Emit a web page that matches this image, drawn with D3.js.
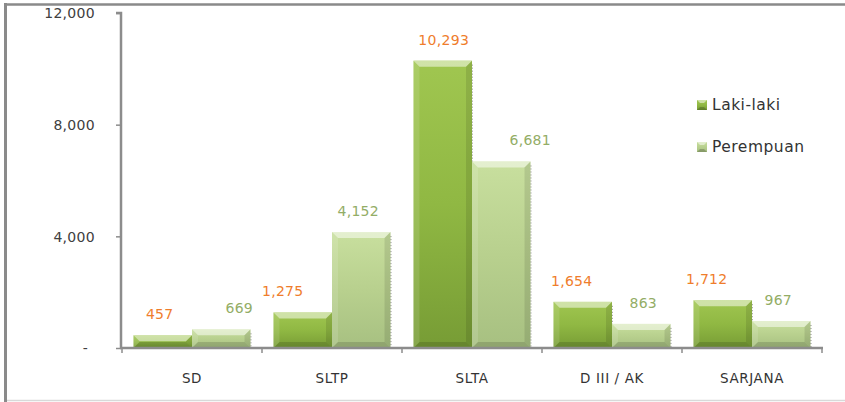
<!DOCTYPE html>
<html><head><meta charset="utf-8">
<script src="https://cdn.jsdelivr.net/npm/d3@7"></script>
<style>html,body{margin:0;padding:0;background:#fff;}svg{display:block;}</style>
</head><body>
<svg id="chart" width="845" height="402"></svg>
<script>
const categories = ["SD", "SLTP", "SLTA", "D III / AK", "SARJANA"];
const seriesNames = ["Laki-laki", "Perempuan"];
const lakiLaki = [457, 1275, 10293, 1654, 1712];
const perempuan = [669, 4152, 6681, 863, 967];
const yTicks = [0, 4000, 8000, 12000];
// horizontal nudges of the value labels as placed in the original
const labelNudgeLaki = [-3, -20, 1, -11, -16];
const labelNudgePerempuan = [18, -3, 29, 2, -3];

const svg = d3.select("#chart");
const font = "'DejaVu Sans', Verdana, sans-serif";
const axisGray = "#8c8c8c";

// outer frame
svg.append("line").attr("x1",5.5).attr("x2",5.5).attr("y1",3).attr("y2",402).attr("stroke","#8a8a8a").attr("stroke-width",3);
svg.append("line").attr("x1",4).attr("x2",845).attr("y1",4.5).attr("y2",4.5).attr("stroke","#8a8a8a").attr("stroke-width",2.5);
svg.append("line").attr("x1",7).attr("x2",845).attr("y1",400.5).attr("y2",400.5).attr("stroke","#d9d9d9").attr("stroke-width",1.5);

const x0 = d3.scaleBand().domain(categories).range([122, 822]).paddingInner(0.164).paddingOuter(0.082);
const x1 = d3.scaleBand().domain(seriesNames).range([0, x0.bandwidth()]).padding(0);
const y = d3.scaleLinear().domain([0, 12000]).range([348, 13]);

// gradients
const defs = svg.append("defs");
function grad(id, stops){
  const g = defs.append("linearGradient").attr("id", id).attr("x1",0).attr("x2",0).attr("y1",0).attr("y2",1);
  stops.forEach(s => g.append("stop").attr("offset", s[0]).attr("stop-color", s[1]));
}
grad("gL", [[0,"#a0c650"],[0.5,"#90b843"],[1,"#779c35"]]);
grad("gP", [[0,"#c8df9e"],[0.5,"#b8d08e"],[1,"#a7c081"]]);
const seriesFill = {"Laki-laki":"url(#gL)", "Perempuan":"url(#gP)"};
const labelColor = {"Laki-laki":"#ef7d2c", "Perempuan":"#93ad66"};

const data = categories.map((c,i)=>({cat:c, vals:[
  {s:"Laki-laki", v:lakiLaki[i], dx:labelNudgeLaki[i]},
  {s:"Perempuan", v:perempuan[i], dx:labelNudgePerempuan[i]}]}));

// y axis
const yAxis = d3.axisLeft(y).tickValues(yTicks).tickSize(5).tickPadding(21)
  .tickFormat(d => d === 0 ? "-" : d3.format(",")(d));
const ya = svg.append("g").attr("transform","translate(121,0)").call(yAxis);
ya.attr("font-size", null).attr("font-family", null);
ya.select(".domain").attr("stroke", axisGray).attr("stroke-width", 2.5).attr("d","M-5,13H0V348");
ya.selectAll(".tick line").attr("stroke", axisGray).attr("stroke-width", 1.5);
ya.selectAll(".tick text").style("font-family", font).style("font-size", "14px").attr("fill", "#404040")
  .attr("dy","0.35em").attr("letter-spacing", 0.3)
  .attr("x", d => d === 0 ? -33 : -26);

// bars
const groups = svg.append("g").selectAll("g").data(data).join("g")
  .attr("transform", d => `translate(${x0(d.cat)},0)`);

groups.each(function(d){
  const g = d3.select(this);
  d.vals.forEach(b => {
    const bx = x1(b.s), bw = x1.bandwidth(), top = y(b.v), h = y(0) - top;
    g.append("rect").attr("x", bx).attr("y", top).attr("width", bw).attr("height", h)
      .attr("fill", seriesFill[b.s]);
    const e = Math.min(6, h/2, bw/2);
    const L = bx, R = bx + bw, T = top, B = top + h;
    const poly = (pts, fill, op) => g.append("polygon").attr("points", pts.map(p=>p.join(",")).join(" "))
      .attr("fill", fill).attr("fill-opacity", op);
    poly([[L,T],[R,T],[R-e,T+e],[L+e,T+e]], "#ffffff", 0.5);
    poly([[L,T],[L+e,T+e],[L+e,B-e],[L,B]], "#ffffff", 0.12);
    poly([[R,T],[R,B],[R-e,B-e],[R-e,T+e]], "#000000", 0.1);
    poly([[L,B],[L+e,B-e],[R-e,B-e],[R,B]], "#000000", 0.14);
    // faint dotted edge artefacts
    g.append("line").attr("x1", R+0.5).attr("x2", R+0.5).attr("y1", T+4).attr("y2", B)
      .attr("stroke", "#333").attr("stroke-width", 1).attr("stroke-dasharray", "1,2").attr("opacity", 0.5);
    // value label
    g.append("text").attr("x", bx + bw/2 + b.dx).attr("y", top - 16)
      .attr("text-anchor","middle").style("font-family", font).style("font-size", "14px")
      .attr("letter-spacing", 0.3)
      .attr("fill", labelColor[b.s]).text(d3.format(",")(b.v));
  });
});

// x axis
const xAxis = d3.axisBottom(x0).tickSize(0).tickPadding(0);
const xa = svg.append("g").attr("transform","translate(0,348)").call(xAxis);
xa.attr("font-size", null).attr("font-family", null);
xa.select(".domain").attr("stroke", axisGray).attr("stroke-width", 2.5).attr("d","M120,0H823");
xa.selectAll(".tick text").style("font-family", font).style("font-size", "13.5px").attr("fill", "#333")
  .attr("y", 35).attr("dy", 0).attr("letter-spacing", 0.6);
// category separator ticks
const bounds = d3.range(categories.length + 1).map(i => 122 + x0.step() * i);
xa.selectAll(".sep").data(bounds).join("line").attr("class","sep")
  .attr("x1", d=>d).attr("x2", d=>d).attr("y1", 0).attr("y2", 5)
  .attr("stroke", axisGray).attr("stroke-width", 1.5);

// legend
const lg = svg.append("g").attr("transform","translate(697,97)");
seriesNames.forEach((s,i) => {
  const row = lg.append("g").attr("transform", `translate(0,${i*42})`);
  row.append("rect").attr("x",0).attr("y",3).attr("width",10).attr("height",10).attr("fill", seriesFill[s]);
  row.append("polygon").attr("points","0,3 10,3 7,6 3,6").attr("fill","#fff").attr("fill-opacity",0.5);
  row.append("polygon").attr("points","0,13 10,13 7,10 3,10").attr("fill","#000").attr("fill-opacity",0.2);
  row.append("text").attr("x", 15).attr("y", 8).attr("dy","0.35em").style("font-family", font)
    .style("font-size", "15.5px").attr("fill", "#333").attr("letter-spacing", 0.5).text(s);
});
</script>
</body></html>
